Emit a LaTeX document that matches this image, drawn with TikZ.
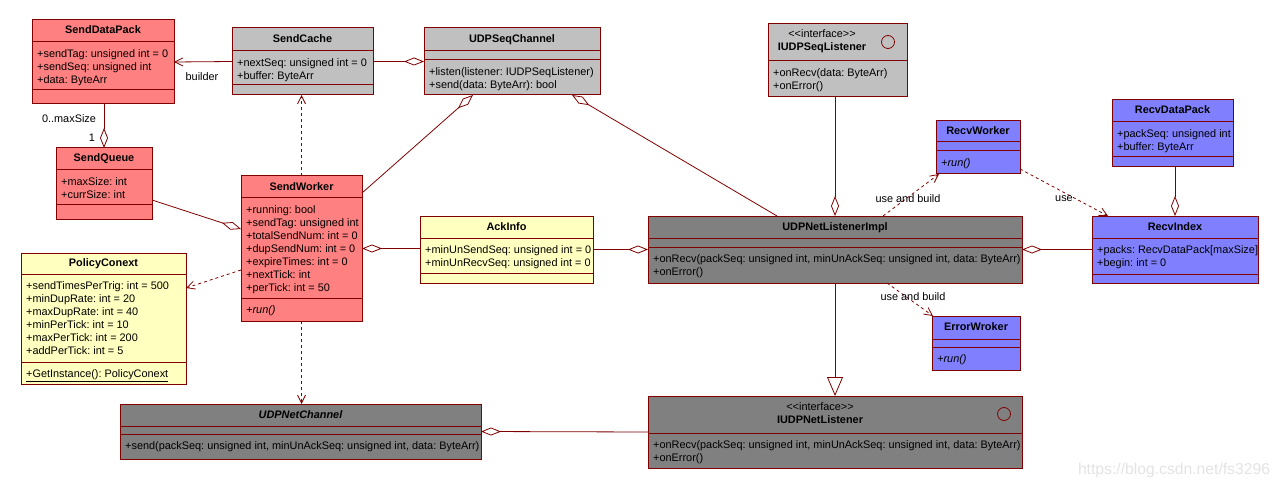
\documentclass[tikz,border=0pt]{standalone}
\usepackage{fontspec}
\setmainfont{Liberation Sans}
\usepackage{tikz}
\usetikzlibrary{arrows.meta,calc}
\frenchspacing
\definecolor{umlline}{RGB}{128,0,0}
\definecolor{sendred}{RGB}{255,128,128}
\definecolor{cachegray}{RGB}{192,192,192}
\definecolor{implgray}{RGB}{128,128,128}
\definecolor{ackyellow}{RGB}{255,255,192}
\definecolor{recvblue}{RGB}{128,128,255}
\tikzset{
  cls/.style={rectangle, draw=umlline, line width=1pt, anchor=north west, inner sep=0pt, outer sep=0pt},
  ctitle/.style={font=\fontsize{10.9}{13}\selectfont\bfseries, inner sep=0pt, text height=8pt, text depth=2pt},
  stereo/.style={font=\fontsize{10.9}{13}\selectfont, inner sep=0pt, text height=8pt, text depth=2pt},
  members/.style={anchor=north west, align=left, inner sep=0pt, font=\fontsize{10.9}{13}\selectfont},
  lbl/.style={font=\fontsize{10.9}{13}\selectfont, inner sep=0pt, text height=8pt, text depth=2pt},
  sep/.style={draw=umlline, line width=1pt},
  assoc/.style={draw=umlline, line width=0.8pt},
  aggr/.style={assoc, {Diamond[open, fill=white, length=20pt, width=8pt]}-}, % aggregation, diamond at start
  navi/.style={assoc, -{Straight Barb[length=8pt, width=8pt]}},
  dep/.style={assoc, dash pattern=on 3pt off 3pt, -{Straight Barb[length=8pt, width=8pt]}}, % dependency
  gen/.style={assoc, -{Triangle[open, fill=white, length=19pt, width=16pt]}}, % realization
  wmark/.style={font=\fontsize{15.7}{18}\selectfont, text=black!11, inner sep=0pt}
}

\begin{document}
\begin{tikzpicture}[x=1pt, y=-1pt]
  \useasboundingbox (0,0) rectangle (1279,489);

  % sending side
  \node[cls, fill=sendred, minimum width=142, minimum height=84] (SendDataPack) at (32,20) {};
  \node[ctitle] (SendDataPackT) at (103,31) {SendDataPack};
  \draw[sep] (32,42) -- (174,42);
  \draw[sep] (32,90) -- (174,90);
  \node[members] (SendDataPackA) at (37,49) {+sendTag: unsigned int = 0\\+sendSeq: unsigned int\\+data: ByteArr};

  \node[cls, fill=cachegray, minimum width=141, minimum height=67] (SendCache) at (232,28) {};
  \node[ctitle] (SendCacheT) at (302.5,39.5) {SendCache};
  \draw[sep] (232,51) -- (373,51);
  \draw[sep] (232,85) -- (373,85);
  \node[members] (SendCacheA) at (237,58) {+nextSeq: unsigned int = 0\\+buffer: ByteArr};

  \node[cls, fill=sendred, minimum width=96, minimum height=71] (SendQueue) at (56,148) {};
  \node[ctitle] (SendQueueT) at (104,159) {SendQueue};
  \draw[sep] (56,170) -- (152,170);
  \draw[sep] (56,205) -- (152,205);
  \node[members] (SendQueueA) at (61,177) {+maxSize: int\\+currSize: int};

  \node[cls, fill=sendred, minimum width=121, minimum height=145] (SendWorker) at (241,176) {};
  \node[ctitle] (SendWorkerT) at (301.5,187) {SendWorker};
  \draw[sep] (241,198) -- (362,198);
  \draw[sep] (241,298) -- (362,298);
  \node[members] (SendWorkerA) at (246,205) {+running: bool\\+sendTag: unsigned int\\+totalSendNum: int = 0\\+dupSendNum: int = 0\\+expireTimes: int = 0\\+nextTick: int\\+perTick: int = 50};
  \node[members] (SendWorkerO) at (246,305) {\itshape +run()};

  \node[cls, fill=ackyellow, minimum width=165, minimum height=131] (PolicyConext) at (21,253) {};
  \node[ctitle] (PolicyConextT) at (103.5,263.5) {PolicyConext};
  \draw[sep] (21,274) -- (186,274);
  \draw[sep] (21,362) -- (186,362);
  \node[members] (PolicyConextA) at (26,281) {+sendTimesPerTrig: int = 500\\+minDupRate: int = 20\\+maxDupRate: int = 40\\+minPerTick: int = 10\\+maxPerTick: int = 200\\+addPerTick: int = 5};
  \node[members] (PolicyConextO) at (26,369) {\underline{+GetInstance(): PolicyConext}};

  \node[cls, fill=ackyellow, minimum width=173, minimum height=67] (AckInfo) at (420,216) {};
  \node[ctitle] (AckInfoT) at (506.5,227) {AckInfo};
  \draw[sep] (420,238) -- (593,238);
  \draw[sep] (420,273) -- (593,273);
  \node[members] (AckInfoA) at (425,245) {+minUnSendSeq: unsigned int = 0\\+minUnRecvSeq: unsigned int = 0};

  \node[cls, fill=cachegray, minimum width=176, minimum height=67] (UDPSeqChannel) at (424,28) {};
  \node[ctitle] (UDPSeqChannelT) at (512,39.5) {UDPSeqChannel};
  \draw[sep] (424,51) -- (600,51);
  \draw[sep] (424,60) -- (600,60);
  \node[members] (UDPSeqChannelO) at (429,67) {+listen(listener: IUDPSeqListener)\\+send(data: ByteArr): bool};

  \node[cls, fill=implgray, minimum width=361, minimum height=55] (UDPNetChannel) at (120,404) {};
  \node[ctitle] (UDPNetChannelT) at (300.5,415) {\itshape UDPNetChannel};
  \draw[sep] (120,426) -- (481,426);
  \draw[sep] (120,434) -- (481,434);
  \node[members] (UDPNetChannelO) at (125,441) {+send(packSeq: unsigned int, minUnAckSeq: unsigned int, data: ByteArr)};

  % receiving side
  \node[cls, fill=cachegray, minimum width=139, minimum height=73] (IUDPSeqListener) at (768,24) {};
  \node[stereo] (IUDPSeqListenerS) at (822,35) {<{}<interface>{}>};
  \node[ctitle] (IUDPSeqListenerT) at (822,48) {IUDPSeqListener};
  \draw[umlline, line width=0.8pt] (888,42) circle[radius=6.5pt];
  \draw[sep] (768,61) -- (907,61);
  \node[members] (IUDPSeqListenerO) at (773,68) {+onRecv(data: ByteArr)\\+onError()};

  \node[cls, fill=implgray, minimum width=374, minimum height=67] (UDPNetListenerImpl) at (648,216) {};
  \node[ctitle] (UDPNetListenerImplT) at (835,227) {UDPNetListenerImpl};
  \draw[sep] (648,238) -- (1022,238);
  \draw[sep] (648,247) -- (1022,247);
  \node[members] (UDPNetListenerImplO) at (653,254) {+onRecv(packSeq: unsigned int, minUnAckSeq: unsigned int, data: ByteArr)\\+onError()};

  \node[cls, fill=implgray, minimum width=374, minimum height=72] (IUDPNetListener) at (648,396) {};
  \node[stereo] (IUDPNetListenerS) at (820,407) {<{}<interface>{}>};
  \node[ctitle] (IUDPNetListenerT) at (820,420) {IUDPNetListener};
  \draw[umlline, line width=0.8pt] (1004,414) circle[radius=6.5pt];
  \draw[sep] (648,433) -- (1022,433);
  \node[members] (IUDPNetListenerO) at (653,440) {+onRecv(packSeq: unsigned int, minUnAckSeq: unsigned int, data: ByteArr)\\+onError()};

  \node[cls, fill=recvblue, minimum width=84, minimum height=53] (RecvWorker) at (936,121) {};
  \node[ctitle] (RecvWorkerT) at (978,131.5) {RecvWorker};
  \draw[sep] (936,142) -- (1020,142);
  \draw[sep] (936,151) -- (1020,151);
  \node[members] (RecvWorkerO) at (941,158) {\itshape +run()};

  \node[cls, fill=recvblue, minimum width=88, minimum height=54] (ErrorWroker) at (932,316) {};
  \node[ctitle] (ErrorWrokerT) at (976,327.5) {ErrorWroker};
  \draw[sep] (932,339) -- (1020,339);
  \draw[sep] (932,347) -- (1020,347);
  \node[members] (ErrorWrokerO) at (937,354) {\itshape +run()};

  \node[cls, fill=recvblue, minimum width=121, minimum height=67] (RecvDataPack) at (1112,100) {};
  \node[ctitle] (RecvDataPackT) at (1172.5,111) {RecvDataPack};
  \draw[sep] (1112,122) -- (1233,122);
  \draw[sep] (1112,157) -- (1233,157);
  \node[members] (RecvDataPackA) at (1117,129) {+packSeq: unsigned int\\+buffer: ByteArr};

  \node[cls, fill=recvblue, minimum width=166, minimum height=67] (RecvIndex) at (1092,216) {};
  \node[ctitle] (RecvIndexT) at (1175,227) {RecvIndex};
  \draw[sep] (1092,238) -- (1258,238);
  \draw[sep] (1092,274) -- (1258,274);
  \node[members] (RecvIndexA) at (1097,245) {+packs: RecvDataPack[maxSize]\\+begin: int = 0};

  % connectors
  \draw[navi] (SendCache.west) -- (SendDataPack.east);
  \node[lbl] (builderL) at (202,78) {builder};
  \draw[aggr] (SendQueue.north) -- (SendQueue.north |- SendDataPack.south);
  \node[lbl] (maxSizeL) at (69,120) {0..maxSize};
  \node[lbl] (oneL) at (92,139) {1};
  \draw[aggr] (UDPSeqChannel.west) -- (SendCache.east);
  \draw[dep] (SendWorker.north) -- (SendWorker.north |- SendCache.south);
  \draw[aggr] ([yshift=-53pt]SendWorker.north west) -- ([yshift=-52pt]SendQueue.north east);
  \draw[aggr] ([xshift=49pt]UDPSeqChannel.south west) -- ([yshift=-17pt]SendWorker.north east);
  \draw[aggr] ([xshift=-28pt]UDPSeqChannel.south east) -- ([xshift=-58pt]UDPNetListenerImpl.north);
  \draw[aggr] (UDPNetListenerImpl.north) -- (UDPNetListenerImpl.north |- IUDPSeqListener.south);
  \draw[aggr] (SendWorker.east) -- (SendWorker.east -| AckInfo.west);
  \draw[aggr] (UDPNetListenerImpl.west) -- (AckInfo.east);
  \draw[dep] ([yshift=-94pt]SendWorker.north west) -- ([yshift=-35pt]PolicyConext.north east);
  \draw[dep] (SendWorker.south) -- (SendWorker.south |- UDPNetChannel.north);
  \draw[aggr] (UDPNetChannel.east) -- (IUDPNetListener.west);
  \draw[gen] (UDPNetListenerImpl.south) -- (IUDPNetListener.north);
  \draw[dep] ([xshift=48pt]UDPNetListenerImpl.north) -- ([xshift=3pt]RecvWorker.south west);
  \node[lbl] (useBuildL) at (908,200) {use and build};
  \draw[dep] ([xshift=52pt]UDPNetListenerImpl.south) -- ([xshift=1pt]ErrorWroker.north west);
  \node[lbl] (useBuildErrL) at (913,297) {use and build};
  \draw[dep] ([yshift=5pt]RecvWorker.south east) -- ([xshift=16pt]RecvIndex.north west);
  \node[lbl] (useL) at (1064,198) {use};
  \draw[aggr] (RecvIndex.north) -- (RecvIndex.north |- RecvDataPack.south);
  \draw[aggr] (UDPNetListenerImpl.east) -- (RecvIndex.west);

  \node[wmark] (watermark) at (1174,470) {https://blog.csdn.net/fs3296};
\end{tikzpicture}
\end{document}
